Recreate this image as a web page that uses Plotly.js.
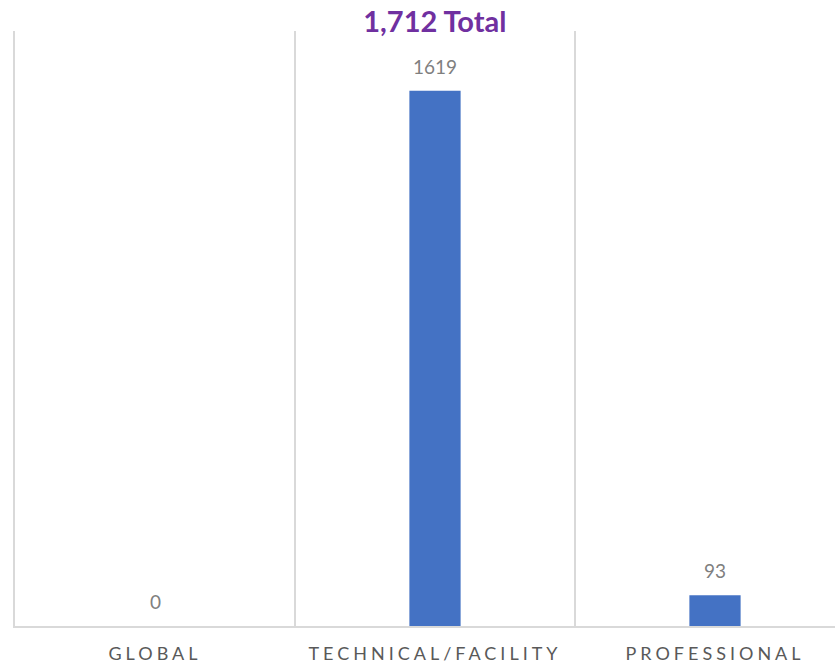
<!DOCTYPE html>
<html>
<head>
<meta charset="utf-8">
<script src="https://cdn.plot.ly/plotly-3.0.1.min.js"></script>
<style>
html,body{margin:0;padding:0;background:#fff;overflow:hidden;width:835px;height:665px;}
#chart{width:856px;height:665px;}
.xtick text{letter-spacing:4px;}
</style>
</head>
<body>
<div id="chart"></div>
<script>
var categories = ["GLOBAL", "TECHNICAL/FACILITY", "PROFESSIONAL"];
var values = [0, 1619, 93];
var totalLabel = "1,712 Total";

var trace = {
  type: "bar",
  x: categories,
  y: values,
  width: 0.183,
  marker: {color: "#4472C4"},
  hoverinfo: "none"
};

var annotations = categories.map(function(c, i){
  return {
    x: c, y: values[i], xref: "x", yref: "y",
    text: String(values[i]),
    showarrow: false,
    yanchor: "bottom",
    yshift: 11,
    font: {family: "Lato, 'DejaVu Sans', sans-serif", size: 19, color: "#7F7F7F"}
  };
});

var layout = {
  width: 856, height: 665,
  margin: {l: 15, r: 1, t: 31, b: 39},
  paper_bgcolor: "#ffffff",
  plot_bgcolor: "#ffffff",
  showlegend: false,
  title: {
    text: "<b>" + totalLabel + "</b>",
    x: 0.508, xanchor: "center",
    y: 0.967, yanchor: "middle",
    font: {family: "Lato, 'DejaVu Sans', sans-serif", size: 29, color: "#7030A0"}
  },
  xaxis: {
    type: "category",
    range: [-0.5, 2.5],
    tickson: "boundaries",
    showgrid: true,
    gridcolor: "#D9D9D9",
    gridwidth: 2,
    ticks: "",
    showline: true,
    linecolor: "#D9D9D9",
    linewidth: 2,
    tickfont: {family: "Lato, 'DejaVu Sans', sans-serif", size: 18, color: "#595959"},
    ticklabelstandoff: 10,
    fixedrange: true
  },
  yaxis: {
    range: [0, 1800],
    showgrid: false,
    zeroline: false,
    showticklabels: false,
    ticks: "",
    showline: true,
    linecolor: "#D9D9D9",
    linewidth: 2,
    fixedrange: true
  },
  annotations: annotations
};

Plotly.newPlot("chart", [trace], layout, {displayModeBar: false, staticPlot: true});
</script>
</body>
</html>
